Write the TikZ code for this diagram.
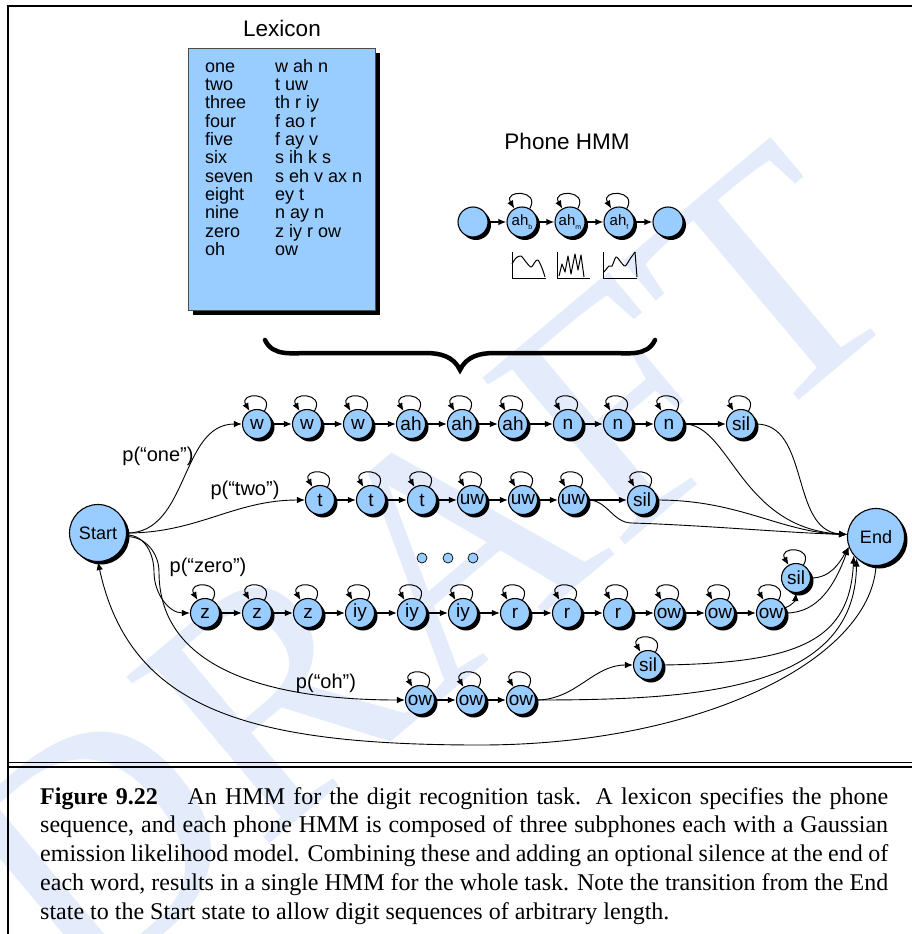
\documentclass[tikz,border=0pt]{standalone}
\usepackage{fontspec}
\setmainfont{Liberation Serif}
\setsansfont{Liberation Sans}
\usetikzlibrary{arrows.meta,shadows}
\definecolor{Sc}{HTML}{99CCFF}
\definecolor{Wm}{HTML}{E4EBFA}

\begin{document}
\begin{tikzpicture}[x=1pt, y=1pt, font=\sffamily\fontsize{19}{19}\selectfont,
    >={Latex[length=8pt,width=6.5pt]},
    st/.style={circle, draw, line width=1.1pt, fill=Sc, minimum size=29pt, inner sep=0pt,
      drop shadow={shadow xshift=3pt, shadow yshift=-3pt, opacity=1, fill=black}},
    big/.style={st, minimum size=57pt, font=\sffamily\fontsize{18}{18}\selectfont},
    small/.style={st, minimum size=30pt, font=\sffamily\fontsize{15}{15}\selectfont},
    dot/.style={circle, draw, line width=0.7pt, fill=Sc, minimum size=10pt, inner sep=0pt},
    chain/.style={->, line width=1.3pt},
    selfl/.style={->, line width=1pt, out=60, in=120, looseness=1, min distance=22pt},
    arc/.style={->, line width=0.9pt},
    lbl/.style={font=\sffamily\fontsize{20}{20}\selectfont},
    title/.style={font=\sffamily\fontsize{22.5}{22.5}\selectfont},
    lex/.style={anchor=base west, inner sep=0pt, font=\sffamily\fontsize{18}{18}\selectfont}]
  \useasboundingbox (0,0) rectangle (912,-934);
  % watermark
  \begin{scope}
    \clip (0,0) rectangle (912,-934);
    \node[rotate=40, text=Wm, inner sep=0pt, font=\rmfamily\fontsize{335}{335}\selectfont]
      (wmark) at (425,-570) {DRAFT};
  \end{scope}
  % frame and caption
  \draw[line width=1.8pt] (8,-934) -- (8,-6) -- (912,-6);
  \draw[line width=1.5pt] (8,-762.5) -- (912,-762.5) (8,-767) -- (912,-767);
  \node[anchor=north west, inner sep=0pt, text width=848pt, align=justify,
    font=\rmfamily\fontsize{24}{28.8}\selectfont] (caption) at (40,-787)
    {\textbf{Figure 9.22}\hspace{0.9em} An HMM for the digit recognition task.  A lexicon specifies the phone\linebreak
     sequence, and each phone HMM is composed of three subphones each with a Gaussian\linebreak
     emission likelihood model. Combining these and adding an optional silence at the end of\linebreak
     each word, results in a single HMM for the whole task. Note the transition from the End\linebreak
     state to the Start state to allow digit sequences of arbitrary length.};

  % lexicon
  \node[title] (lextitle) at (282,-28) {Lexicon};
  \node[draw=black!70, line width=0.8pt, fill=Sc, minimum width=187pt, minimum height=262pt,
    anchor=north west, inner sep=0pt,
    drop shadow={shadow xshift=5pt, shadow yshift=-5pt, opacity=1, fill=black}] (lexbox) at (188,-48) {};
  \foreach \w/\p [count=\i from 0] in {one/w ah n, two/t uw, three/th r iy, four/f ao r,
      five/f ay v, six/s ih k s, seven/s eh v ax n, eight/ey t, nine/n ay n, zero/z iy r ow, oh/ow} {
    \node[lex] (lw\i) at (205,{-72-18.34*\i}) {\w};
    \node[lex] (lp\i) at (275,{-72-18.34*\i}) {\p};
  }

  % phone HMM
  \node[title] (phtitle) at (567,-141) {Phone HMM};
  \node[small] (p0) at (473,-222) {};
  \node[small] (pb) at (522,-222) {ah\raisebox{-4pt}{\fontsize{7}{7}\selectfont b}};
  \node[small] (pm) at (570,-222) {ah\raisebox{-4pt}{\fontsize{7}{7}\selectfont m}};
  \node[small] (pf) at (619,-222) {ah\raisebox{-4pt}{\fontsize{7}{7}\selectfont f}};
  \node[small] (p4) at (668,-222) {};
  \foreach \a/\b in {p0/pb, pb/pm, pm/pf, pf/p4} \draw[chain, line width=1.5pt] (\a) -- (\b);
  \foreach \n in {pb, pm, pf} \draw[selfl] (\n) to (\n);
  % emission likelihoods
  \begin{scope}[line width=1pt, line join=round]
    \draw (512,-252) -- (512,-278) -- (546,-278);
    \draw plot[smooth] coordinates {(512,-264) (516,-258) (521,-256) (526,-262) (531,-267)
      (535,-262) (538,-260) (542,-268) (545,-277)};
    \draw (557,-252) -- (557,-278) -- (590,-278);
    \draw (559,-276) -- (562,-264) -- (565,-272) -- (568,-256) -- (571,-274) -- (575,-254)
      -- (578,-270) -- (581,-255) -- (584,-277);
    \draw (603,-252) -- (603,-278) -- (637,-278);
    \draw plot[smooth] coordinates {(604,-272) (609,-266) (612,-266) (616,-257) (620,-261)
      (625,-266) (630,-259) (635,-252)};
    \draw (635,-252) -- (637,-277);
  \end{scope}

  % brace
  \draw[line width=4.5pt, line cap=round] (265,-340) to[out=-65,in=180] (310,-353) -- (425,-353)
    to[out=0,in=115] (460,-370) to[out=65,in=180] (495,-353) -- (610,-353) to[out=0,in=-115] (655,-340);

  % word models
  \node[big] (S) at (98,-533) {Start};
  \node[big] (E) at (876,-537) {End};
  \foreach \x/\t [count=\i] in {257/w,307/w,358/w,411/ah,462/ah,513/ah,568/n,618/n,669/n}
    \node[st] (o\i) at (\x,-424) {\t};
  \node[st] (osil) at (741,-424) {sil};
  \foreach \x/\t [count=\i] in {320/t,371/t,422/t,472/uw,523/uw,573/uw}
    \node[st] (t\i) at (\x,-500) {\t};
  \node[st] (tsil) at (642,-500) {sil};
  \foreach \x/\t [count=\i] in {205/z,257/z,308/z,360/iy,412/iy,463/iy,515/r,567/r,618/r,669/ow,720/ow,771/ow}
    \node[st] (z\i) at (\x,-613) {\t};
  \node[st] (zsil) at (796,-578) {sil};
  \foreach \x/\t [count=\i] in {420/ow,471/ow,521/ow}
    \node[st] (h\i) at (\x,-700) {\t};
  \node[st] (hsil) at (648,-665) {sil};
  \foreach \x [count=\i] in {422,448,473} \node[dot] (d\i) at (\x,-558) {};

  % chains and self loops
  \foreach \i [evaluate=\i as \j using int(\i+1)] in {1,...,8} \draw[chain] (o\i) -- (o\j);
  \foreach \i [evaluate=\i as \j using int(\i+1)] in {1,...,5} \draw[chain] (t\i) -- (t\j);
  \foreach \i [evaluate=\i as \j using int(\i+1)] in {1,...,11} \draw[chain] (z\i) -- (z\j);
  \foreach \i [evaluate=\i as \j using int(\i+1)] in {1,2} \draw[chain] (h\i) -- (h\j);
  \draw[chain] (o9) -- (osil);
  \draw[chain] (t6) -- (tsil);
  \foreach \n in {o1,o2,o3,o4,o5,o6,o7,o8,o9,osil,t1,t2,t3,t4,t5,t6,tsil,
      z1,z2,z3,z4,z5,z6,z7,z8,z9,z10,z11,z12,zsil,h1,h2,h3,hsil}
    \draw[selfl] (\n) to (\n);

  % from Start
  \draw[arc] (S.east) to[out=0,in=180] (o1.west);
  \draw[arc] (S.east) to[out=0,in=180] (t1.west);
  \draw[arc] (S.-4) to[out=0,in=90] (154,-572) to[out=-90,in=180] (z1.west);
  \draw[arc] (S.-7) to[out=0,in=90] (159,-572) to[out=-90,in=180] (h1.west);
  \node[lbl] (lone) at (158,-456) {p(“one”)};
  \node[lbl] (ltwo) at (245,-490) {p(“two”)};
  \node[lbl] (lzero) at (208,-567) {p(“zero”)};
  \node[lbl] (loh) at (326,-683) {p(“oh”)};

  % into End
  \draw[arc] (o9.east) .. controls (730,-424) and (740,-528) .. (E.175);
  \draw[arc] (osil.east) .. controls (810,-424) and (790,-530) .. (E.175);
  \draw[arc] (tsil.east) .. controls (740,-500) and (780,-532) .. (E.175);
  \draw[arc] (t6.east) to[out=0,in=180] (632,-523) .. controls (700,-525) and (790,-533) .. (E.175);
  \draw[arc] (z12.20) to[out=20,in=-95] (zsil.south);
  \draw[arc] (zsil.east) to[out=0,in=240] (E.200);
  \draw[arc] (z12.east) .. controls (818,-613) and (835,-585) .. (E.200);
  \draw[arc] (h3.east) to[out=0,in=180] (hsil.west);
  \draw[arc] (hsil.east) .. controls (800,-663) and (850,-640) .. (E.220);
  \draw[arc] (h3.east) .. controls (700,-700) and (855,-690) .. (E.228);
  % back to Start
  \draw[arc] (E.south) .. controls (870,-660) and (700,-745) .. (480,-745)
    .. controls (250,-745) and (130,-710) .. (S.south);
\end{tikzpicture}
\end{document}
